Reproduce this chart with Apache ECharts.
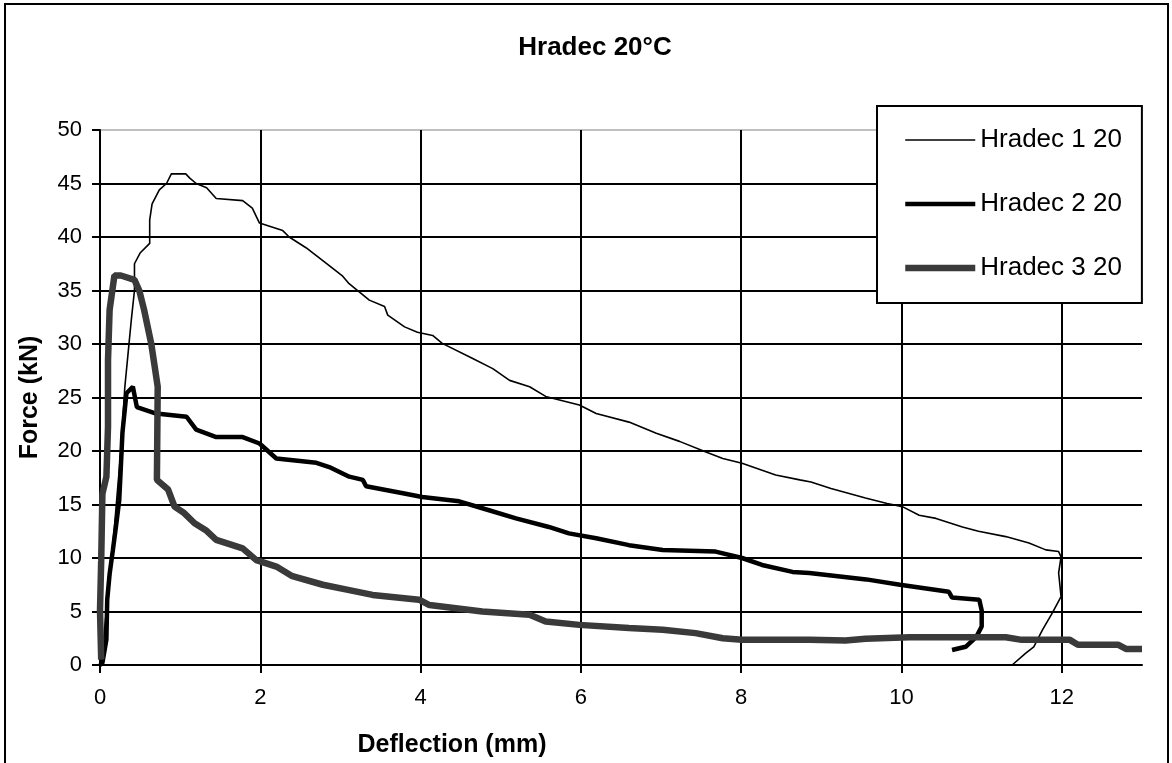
<!DOCTYPE html>
<html>
<head>
<meta charset="utf-8">
<title>Hradec 20°C</title>
<script src="https://cdn.jsdelivr.net/npm/echarts@6/dist/echarts.min.js"></script>
<style>
html,body{margin:0;padding:0;background:#fff;}
#chart{width:1172px;height:763px;}
</style>
</head>
<body>
<div id="chart"></div>
<script>
// deflection (mm), force (kN)
var seriesNames = ['Hradec 1 20', 'Hradec 2 20', 'Hradec 3 20'];
var xTicks = [0, 2, 4, 6, 8, 10, 12];

var hradec1 = [[0.0,0],[0.03,0.5],[0.06,3.6],[0.12,8.2],[0.18,12.9],[0.22,16.5],[0.26,20],[0.31,26.0],[0.35,29.1],
	[0.39,32.2],[0.43,35.0],[0.43,37.5],[0.5,38.5],[0.62,39.4],[0.62,41.6],[0.65,43.1],[0.74,44.4],[0.83,45.0],
	[0.89,45.9],[1.07,45.9],[1.12,45.5],[1.20,45.0],[1.33,44.6],[1.45,43.6],[1.78,43.4],[1.90,42.7],[1.99,41.3],
	[2.28,40.6],[2.36,40.0],[2.57,39.0],[2.82,37.55],[3.02,36.4],[3.10,35.7],[3.36,34.1],[3.55,33.5],[3.59,32.7],
	[3.80,31.6],[3.96,31.1],[4.15,30.8],[4.27,30.06],[4.65,28.65],[4.90,27.7],[5.11,26.6],[5.36,26.0],[5.56,25.1],
	[5.98,24.3],[6.19,23.5],[6.60,22.7],[6.94,21.65],[7.23,20.9],[7.56,19.9],[7.77,19.3],[8.01,18.85],[8.43,17.76],
	[8.73,17.3],[8.87,17.1],[9.12,16.5],[9.55,15.6],[9.82,15.1],[10.01,14.8],[10.22,14.0],[10.43,13.7],[10.76,12.9],
	[10.96,12.5],[11.3,12.0],[11.59,11.4],[11.8,10.76],[11.96,10.6],[11.99,10.1],[11.96,8.6],[11.99,6.4],[11.88,4.85],
	[11.76,3.3],[11.65,1.7],[11.55,1.1],[11.38,0]];

var hradec2 = [[0.0,0],[0.03,0.2],[0.06,1.5],[0.08,2.4],[0.09,6.1],[0.12,8.5],[0.16,10.7],[0.2,13],[0.24,15.4],
	[0.26,18.5],[0.28,21.7],[0.33,25.4],[0.41,26.0],[0.46,24.1],[0.70,23.5],[1.08,23.2],[1.20,22.0],[1.45,21.3],
	[1.78,21.3],[1.99,20.7],[2.20,19.3],[2.70,18.9],[2.86,18.5],[3.11,17.6],[3.28,17.3],[3.32,16.7],[3.78,16.05],
	[4.02,15.7],[4.48,15.3],[4.77,14.65],[5.19,13.7],[5.6,12.9],[5.85,12.3],[6.19,11.85],[6.6,11.2],[7.02,10.75],
	[7.68,10.6],[8.01,10.0],[8.26,9.35],[8.64,8.7],[8.85,8.6],[9.56,8.0],[9.98,7.5],[10.59,6.85],[10.63,6.3],
	[10.97,6.1],[11.0,5.1],[11.0,3.6],[10.93,2.6],[10.8,1.7],[10.63,1.4]];

var hradec3 = [[0.015,0.5],[0.0,5.1],[0.015,9.8],[0.03,16.0],[0.08,17.6],[0.10,22.3],[0.10,28.5],[0.12,33.2],
	[0.18,36.4],[0.26,36.4],[0.43,36.0],[0.49,35.0],[0.55,33.2],[0.64,30.0],[0.72,26.0],[0.71,17.3],[0.85,16.4],
	[0.93,14.8],[1.05,14.2],[1.18,13.25],[1.32,12.6],[1.45,11.7],[1.78,10.9],[1.95,9.8],[2.2,9.2],[2.4,8.3],
	[2.78,7.5],[3.11,7.0],[3.40,6.55],[3.98,6.1],[4.11,5.6],[4.77,5.0],[5.36,4.7],[5.56,4.06],[5.98,3.75],
	[6.6,3.45],[7.02,3.3],[7.43,2.98],[7.77,2.5],[8.01,2.35],[8.85,2.35],[9.3,2.3],[9.55,2.45],[10.1,2.6],
	[11.3,2.6],[11.5,2.35],[12.1,2.35],[12.2,1.9],[12.7,1.9],[12.8,1.5],[13.0,1.5]];

var font = 'Liberation Sans, Arial, sans-serif';

var mychart = echarts.init(document.getElementById('chart'));

// last horizontal gridline (50) is grey in the original
var ySplitColors = ['#000','#000','#000','#000','#000','#000','#000','#000','#000','#000','#c0c0c0'];

var option = {
	backgroundColor: '#fff',
	animation: false,
	grid: {left: 100, right: 30, top: 130, bottom: 98, containLabel: false},
	graphic: [
		{type: 'rect', shape: {x: 5, y: 4, width: 1163, height: 800}, style: {fill: 'none', stroke: '#000', lineWidth: 2}, z: 100},
		{type: 'text', x: 595, y: 48, style: {text: 'Hradec 20°C', font: 'bold 26px ' + font, fill: '#000', textAlign: 'center', textVerticalAlign: 'middle'}},
		{type: 'text', x: 452, y: 745, style: {text: 'Deflection (mm)', font: 'bold 25px ' + font, fill: '#000', textAlign: 'center', textVerticalAlign: 'middle'}}
	],
	legend: {
		orient: 'vertical',
		left: 877, top: 106,
		padding: [19, 20, 20, 25],
		itemWidth: 70, itemHeight: 14, itemGap: 34,
		borderColor: '#000', borderWidth: 2, backgroundColor: '#fff',
		lineStyle: {width: 'inherit'},
		itemStyle: {opacity: 0},
		textStyle: {fontSize: 26, fontFamily: font, color: '#000', lineHeight: 30},
		data: seriesNames
	},
	xAxis: {
		type: 'value', min: 0, max: 13, interval: 2,
		axisLine: {lineStyle: {color: '#000', width: 2}},
		axisTick: {length: 8, lineStyle: {color: '#000', width: 2}, customValues: xTicks},
		axisLabel: {fontSize: 22, fontFamily: font, color: '#000', margin: 22, customValues: xTicks},
		splitLine: {show: true, lineStyle: {color: '#000', width: 2}}
	},
	yAxis: {
		type: 'value', min: 0, max: 50, interval: 5,
		name: 'Force (kN)', nameLocation: 'middle', nameGap: 57,
		nameTextStyle: {fontSize: 25, fontWeight: 'bold', fontFamily: font, color: '#000'},
		axisLine: {show: true, lineStyle: {color: '#000', width: 2}},
		axisTick: {show: true, length: 8, lineStyle: {color: '#000', width: 2}},
		axisLabel: {fontSize: 22, fontFamily: font, color: '#000', margin: 18},
		splitLine: {show: true, lineStyle: {color: ySplitColors, width: 2}}
	},
	series: [
		{name: seriesNames[0], type: 'line', data: hradec1, symbol: 'none', itemStyle: {color: '#000'}, lineStyle: {color: '#000', width: 1.6}},
		{name: seriesNames[1], type: 'line', data: hradec2, symbol: 'none', itemStyle: {color: '#000'}, lineStyle: {color: '#000', width: 4.5}},
		{name: seriesNames[2], type: 'line', data: hradec3, symbol: 'none', itemStyle: {color: '#3a3a3a'}, lineStyle: {color: '#3a3a3a', width: 6.5}}
	]
};
mychart.setOption(option);
</script>
</body>
</html>
